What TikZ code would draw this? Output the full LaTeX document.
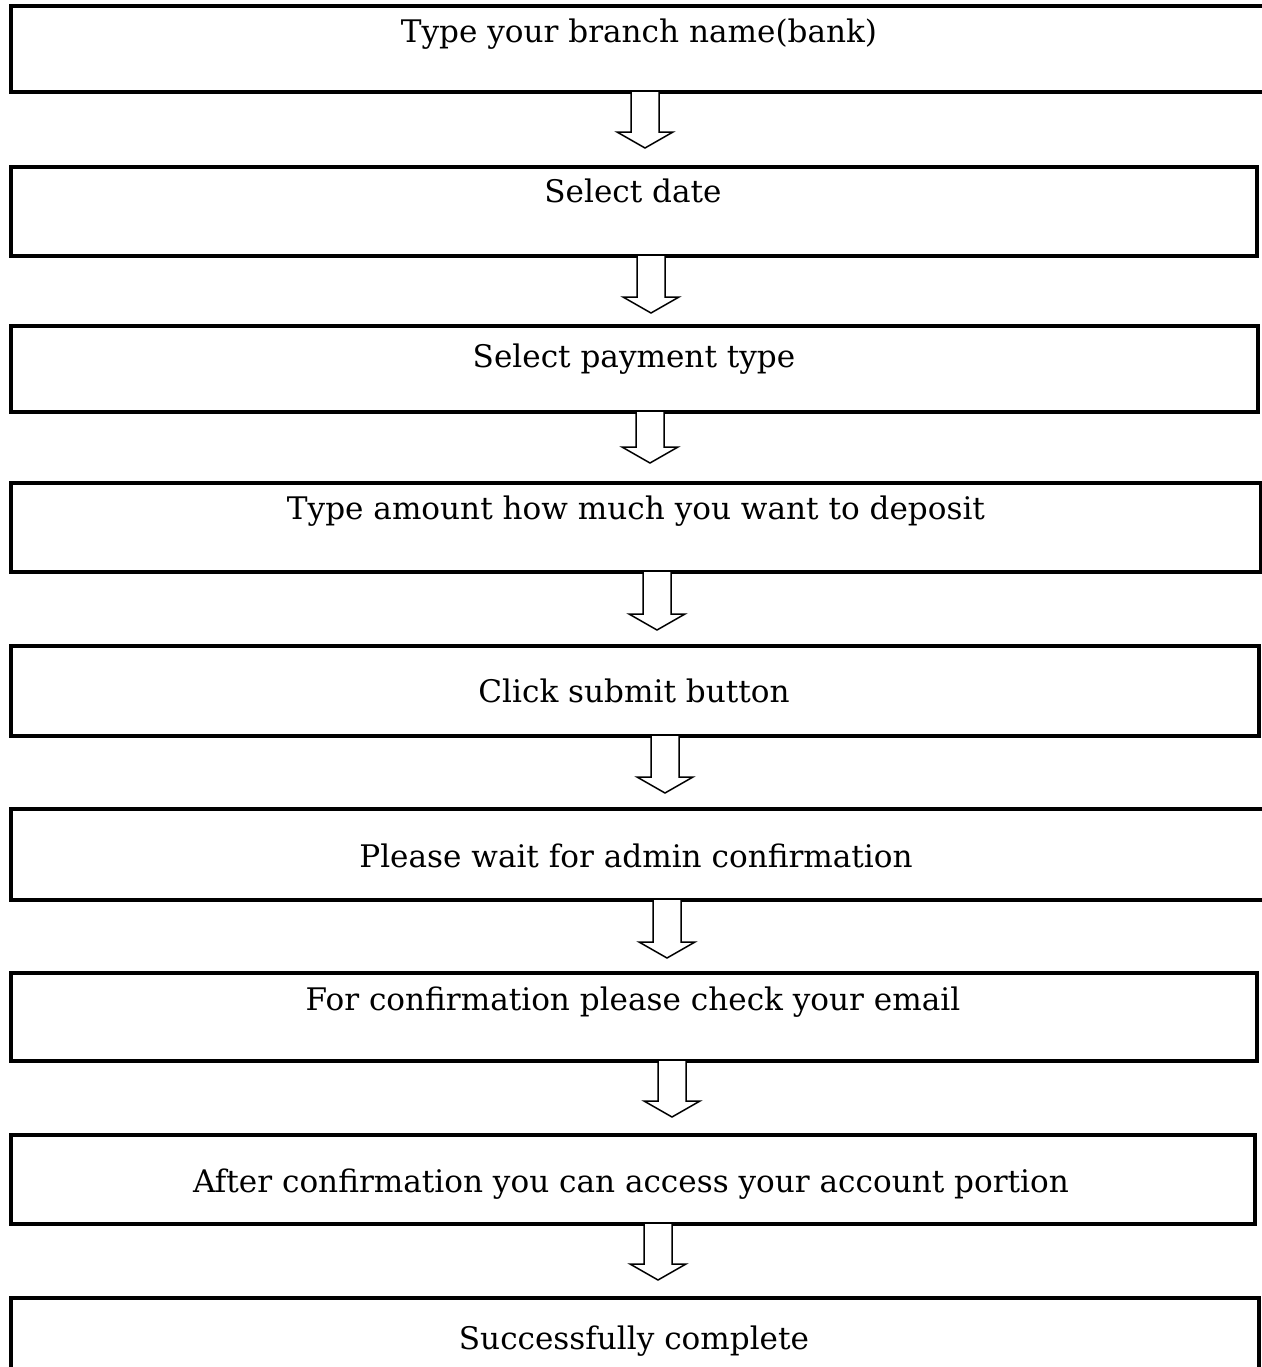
\documentclass[tikz,border=0pt]{standalone}
\usepackage{fontspec}
\setmainfont{DejaVu Serif}
\usetikzlibrary{calc,fit}
\newcommand\blockarrow[4]{%
  \coordinate (tmpT) at ($(#2.north -| #3)+(0,-#4)$);
  \draw[blk] ($(#1.south -| #3)+(-14,0)$) -- ($(tmpT)+(-14,-16)$) -- ($(tmpT)+(-28,-16)$) -- (tmpT)
    -- ($(tmpT)+(28,-16)$) -- ($(tmpT)+(14,-16)$) -- ($(#1.south -| #3)+(14,0)$);}
\begin{document}
\begin{tikzpicture}[x=0.02cm,y=-0.02cm,
  box/.style={draw, line width=0.065cm, inner sep=0pt, outer sep=0pt},
  lbl/.style={font=\fontsize{17.7}{21}\selectfont, inner sep=0pt, anchor=base},
  blk/.style={draw, line width=0.03cm, fill=white, line join=miter}]
\useasboundingbox (0,0) rectangle (1262,1367);
% boxes
\node[box, fit={(11,6) (1300,92)}] (b1) {};
\node[box, fit={(11,167) (1257,256)}] (b2) {};
\node[box, fit={(11,326) (1258,412)}] (b3) {};
\node[box, fit={(11,483) (1261,572)}] (b4) {};
\node[box, fit={(11,646) (1259,736)}] (b5) {};
\node[box, fit={(11,809) (1300,900)}] (b6) {};
\node[box, fit={(11,973) (1257,1061)}] (b7) {};
\node[box, fit={(11,1135) (1255,1224)}] (b8) {};
\node[box, fit={(11,1298) (1259,1400)}] (b9) {};
% labels
\node[lbl] (t1) at (639,42) {Type your branch name(bank)};
\node[lbl] (t2) at (633,202) {Select date};
\node[lbl] (t3) at (634,367) {Select payment type};
\node[lbl] (t4) at (636,519) {Type amount how much you want to deposit};
\node[lbl] (t5) at (634,702) {Click submit button};
\node[lbl] (t6) at (636,867) {Please wait for admin confirmation};
\node[lbl] (t7) at (633,1010) {For confirmation please check your email};
\node[lbl] (t8) at (631,1192) {After confirmation you can access your account portion};
\node[lbl] (t9) at (634,1349) {Successfully complete};
% arrow x positions
\coordinate (x1) at (645,0);
\coordinate (x2) at (651,0);
\coordinate (x3) at (650,0);
\coordinate (x4) at (657,0);
\coordinate (x5) at (665,0);
\coordinate (x6) at (667,0);
\coordinate (x7) at (672,0);
\coordinate (x8) at (658,0);
\blockarrow{b1}{b2}{x1}{19}
\blockarrow{b2}{b3}{x2}{13}
\blockarrow{b3}{b4}{x3}{20}
\blockarrow{b4}{b5}{x4}{16}
\blockarrow{b5}{b6}{x5}{16}
\blockarrow{b6}{b7}{x6}{15}
\blockarrow{b7}{b8}{x7}{18}
\blockarrow{b8}{b9}{x8}{18}
\end{tikzpicture}
\end{document}
